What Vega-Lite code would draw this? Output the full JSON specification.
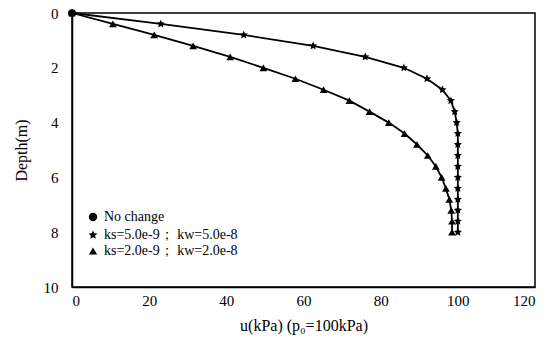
{
  "$schema": "https://vega.github.io/schema/vega-lite/v6.json",
  "width": 463,
  "height": 274,
  "autosize": {"type": "none"},
  "padding": {"left": 72, "top": 13, "right": 23, "bottom": 53},
  "background": "white",
  "config": {
    "view": {"stroke": "black", "strokeWidth": 1.5},
    "font": "Liberation Serif",
    "axis": {"labelFont": "Liberation Serif", "titleFont": "Liberation Serif", "labelColor": "black", "titleColor": "black", "domainColor": "black", "domainWidth": 1.5, "grid": false, "ticks": false}
  },
  "data": {
    "values": [
      {"series": "No change", "u": 0, "depth": 0},
      {"series": "ks=5.0e-9； kw=5.0e-8", "u": 0, "depth": 0},
      {"series": "ks=5.0e-9； kw=5.0e-8", "u": 23, "depth": 0.4},
      {"series": "ks=5.0e-9； kw=5.0e-8", "u": 44.5, "depth": 0.8},
      {"series": "ks=5.0e-9； kw=5.0e-8", "u": 62.5, "depth": 1.2},
      {"series": "ks=5.0e-9； kw=5.0e-8", "u": 76, "depth": 1.6},
      {"series": "ks=5.0e-9； kw=5.0e-8", "u": 86, "depth": 2.0},
      {"series": "ks=5.0e-9； kw=5.0e-8", "u": 92, "depth": 2.4},
      {"series": "ks=5.0e-9； kw=5.0e-8", "u": 96, "depth": 2.8},
      {"series": "ks=5.0e-9； kw=5.0e-8", "u": 98.2, "depth": 3.2},
      {"series": "ks=5.0e-9； kw=5.0e-8", "u": 99.2, "depth": 3.6},
      {"series": "ks=5.0e-9； kw=5.0e-8", "u": 99.7, "depth": 4.0},
      {"series": "ks=5.0e-9； kw=5.0e-8", "u": 100, "depth": 4.4},
      {"series": "ks=5.0e-9； kw=5.0e-8", "u": 100, "depth": 4.8},
      {"series": "ks=5.0e-9； kw=5.0e-8", "u": 100, "depth": 5.2},
      {"series": "ks=5.0e-9； kw=5.0e-8", "u": 100, "depth": 5.6},
      {"series": "ks=5.0e-9； kw=5.0e-8", "u": 100, "depth": 6.0},
      {"series": "ks=5.0e-9； kw=5.0e-8", "u": 100, "depth": 6.4},
      {"series": "ks=5.0e-9； kw=5.0e-8", "u": 100, "depth": 6.8},
      {"series": "ks=5.0e-9； kw=5.0e-8", "u": 100, "depth": 7.2},
      {"series": "ks=5.0e-9； kw=5.0e-8", "u": 100, "depth": 7.6},
      {"series": "ks=5.0e-9； kw=5.0e-8", "u": 100, "depth": 8.0},
      {"series": "ks=2.0e-9； kw=2.0e-8", "u": 0, "depth": 0},
      {"series": "ks=2.0e-9； kw=2.0e-8", "u": 10.6, "depth": 0.4},
      {"series": "ks=2.0e-9； kw=2.0e-8", "u": 21.3, "depth": 0.8},
      {"series": "ks=2.0e-9； kw=2.0e-8", "u": 31.4, "depth": 1.2},
      {"series": "ks=2.0e-9； kw=2.0e-8", "u": 41, "depth": 1.6},
      {"series": "ks=2.0e-9； kw=2.0e-8", "u": 49.6, "depth": 2.0},
      {"series": "ks=2.0e-9； kw=2.0e-8", "u": 57.9, "depth": 2.4},
      {"series": "ks=2.0e-9； kw=2.0e-8", "u": 65.2, "depth": 2.8},
      {"series": "ks=2.0e-9； kw=2.0e-8", "u": 71.9, "depth": 3.2},
      {"series": "ks=2.0e-9； kw=2.0e-8", "u": 77.1, "depth": 3.6},
      {"series": "ks=2.0e-9； kw=2.0e-8", "u": 82.1, "depth": 4.0},
      {"series": "ks=2.0e-9； kw=2.0e-8", "u": 86.2, "depth": 4.4},
      {"series": "ks=2.0e-9； kw=2.0e-8", "u": 89.4, "depth": 4.8},
      {"series": "ks=2.0e-9； kw=2.0e-8", "u": 92.2, "depth": 5.2},
      {"series": "ks=2.0e-9； kw=2.0e-8", "u": 94.3, "depth": 5.6},
      {"series": "ks=2.0e-9； kw=2.0e-8", "u": 95.8, "depth": 6.0},
      {"series": "ks=2.0e-9； kw=2.0e-8", "u": 96.9, "depth": 6.4},
      {"series": "ks=2.0e-9； kw=2.0e-8", "u": 97.8, "depth": 6.8},
      {"series": "ks=2.0e-9； kw=2.0e-8", "u": 98.3, "depth": 7.2},
      {"series": "ks=2.0e-9； kw=2.0e-8", "u": 98.5, "depth": 7.6},
      {"series": "ks=2.0e-9； kw=2.0e-8", "u": 98.5, "depth": 8.0}
    ]
  },
  "encoding": {
    "x": {
      "field": "u", "type": "quantitative",
      "scale": {"domain": [0, 120], "nice": false, "zero": false},
      "axis": {"values": [0, 20, 40, 60, 80, 100, 120], "title": "u(kPa) (p₀=100kPa)", "labelFontSize": 15, "titleFontSize": 16, "titleFontWeight": "normal", "labelPadding": 6, "titlePadding": 9}
    },
    "y": {
      "field": "depth", "type": "quantitative",
      "scale": {"domain": [0, 10], "reverse": true, "nice": false},
      "axis": {"values": [0, 2, 4, 6, 8, 10], "title": "Depth(m)", "labelFontSize": 15, "titleFontSize": 16, "titleFontWeight": "normal", "labelPadding": 14, "titlePadding": 14}
    }
  },
  "layer": [
    {
      "mark": {"type": "line", "color": "black", "strokeWidth": 1.8},
      "encoding": {
        "detail": {"field": "series"},
        "order": {"field": "depth", "type": "quantitative"}
      }
    },
    {
      "mark": {"type": "point", "filled": true, "color": "black", "opacity": 1, "size": 60},
      "encoding": {
        "shape": {
          "field": "series", "type": "nominal",
          "scale": {
            "domain": ["No change", "ks=5.0e-9； kw=5.0e-8", "ks=2.0e-9； kw=2.0e-8"],
            "range": ["circle", "M0,-1.1L0.31,-0.43L1.05,-0.34L0.5,0.16L0.65,0.9L0,0.53L-0.65,0.9L-0.5,0.16L-1.05,-0.34L-0.31,-0.43Z", "triangle-up"]
          },
          "legend": {
            "title": null, "orient": "none", "legendX": 14, "legendY": 197,
            "labelFontSize": 14, "labelFont": "Liberation Serif", "labelColor": "black",
            "symbolFillColor": "black", "symbolStrokeColor": "black", "symbolSize": 70,
            "rowPadding": 2, "labelLimit": 300
          }
        }
      }
    }
  ]
}
